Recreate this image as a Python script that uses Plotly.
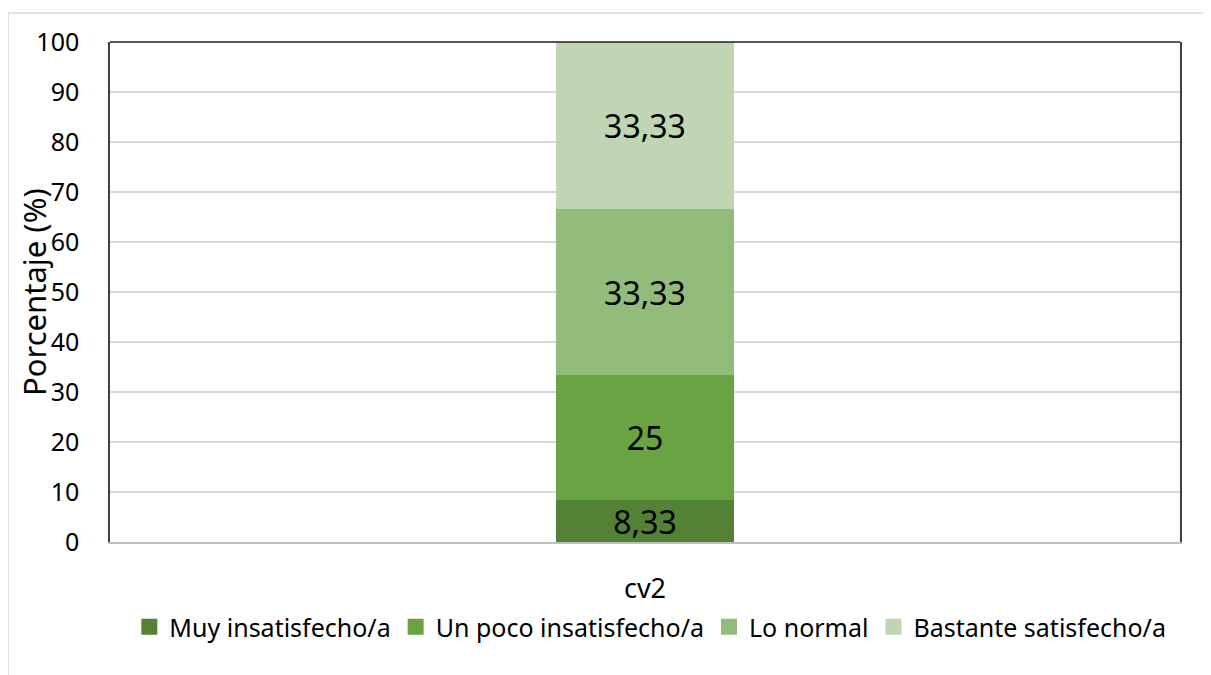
import plotly.graph_objects as go

categories = ["cv2"]
series_names = ["Muy insatisfecho/a", "Un poco insatisfecho/a", "Lo normal", "Bastante satisfecho/a"]
series_values = [[8.33], [25], [33.33], [33.33]]
colors = ["#548235", "#6AA342", "#93BC7A", "#BFD5B3"]
y_ticks = [0, 10, 20, 30, 40, 50, 60, 70, 80, 90, 100]

FONT = "Noto Sans"

fig = go.Figure()
for name, vals, col in zip(series_names, series_values, colors):
    fig.add_trace(go.Bar(
        x=categories, y=vals, name=name,
        marker=dict(color=col, line=dict(width=0)),
        width=0.167,
        texttemplate="%{y}",
        textposition="inside",
        insidetextanchor="middle",
        constraintext="none",
        textfont=dict(size=32, color="black", family=FONT),
        showlegend=False,
        cliponaxis=False,
    ))
# legend entries (square markers sized like the reference)
for name, col in zip(series_names, colors):
    fig.add_trace(go.Scatter(
        x=[None], y=[None], mode="markers", name=name,
        marker=dict(symbol="square", size=16, color=col),
        showlegend=True,
    ))

fig.update_layout(
    barmode="stack",
    width=1211, height=675,
    margin=dict(l=102, r=39, t=34, b=141),
    paper_bgcolor="white", plot_bgcolor="white",
    separators=",.",
    font=dict(family=FONT, color="black"),
    showlegend=True,
    legend=dict(orientation="h", x=0.505, xanchor="center", y=-0.17, yanchor="middle",
                font=dict(size=25, family=FONT), traceorder="normal",
                itemsizing="trace", bgcolor="rgba(0,0,0,0)"),
    xaxis=dict(showline=True, linecolor="#BFBFBF", linewidth=1.5, showgrid=False,
               tickfont=dict(size=27), ticks="", ticklabelstandoff=22,
               range=[-0.5, 0.5]),
    yaxis=dict(range=[0, 100], tickvals=y_ticks, showgrid=True, gridcolor="#D9D9D9",
               gridwidth=1.5, showline=True, linecolor="#404040", linewidth=1.5, mirror=True,
               tickfont=dict(size=25), ticks="", ticklabelstandoff=24,
               zeroline=False),
    annotations=[
        dict(text="Porcentaje (%)", xref="paper", yref="paper", x=0, y=0.5,
             xanchor="center", yanchor="middle", xshift=-76, textangle=-90,
             showarrow=False, font=dict(size=31, family=FONT, color="black")),
    ],
    shapes=[
        dict(type="line", xref="paper", yref="paper", x0=0, x1=1, y0=1, y1=1,
             line=dict(color="#202020", width=1.5)),
        dict(type="rect", xref="paper", yref="paper", x0=-0.0953, x1=1.028, y0=-0.3, y1=1.058,
             line=dict(color="#D9D9D9", width=1.5), layer="below"),
    ],
)

fig.write_html("out.html")
